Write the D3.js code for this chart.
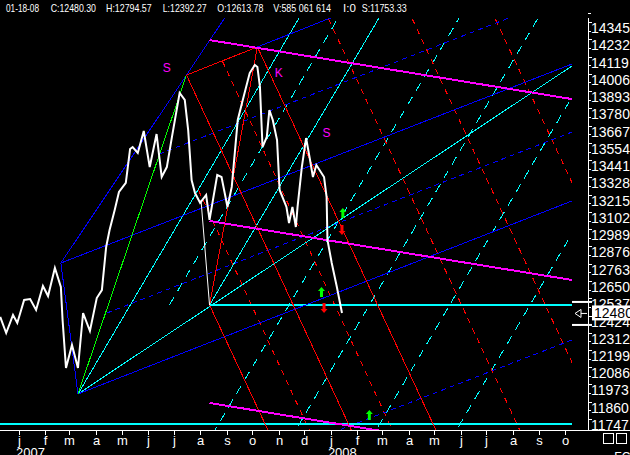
<!DOCTYPE html>
<html><head><meta charset="utf-8">
<script src="https://cdn.jsdelivr.net/npm/d3@7"></script>
<style>body{margin:0;background:#000;overflow:hidden}svg{display:block}</style>
</head><body>
<svg id="c" width="630" height="455"></svg>
<script>
// ---------- DATA ----------
const headerItems = ["01-18-08","C:12480.30","H:12794.57","L:12392.27","O:12613.78","V:585 061 614","I:0","S:11753.33"];
const priceDates = ["2006-12-10","2006-12-17","2006-12-25","2006-12-30","2007-01-07","2007-01-14","2007-01-21","2007-01-29","2007-02-04","2007-02-12","2007-02-19","2007-02-21","2007-02-25","2007-03-04","2007-03-11","2007-03-17","2007-03-25","2007-04-02","2007-04-08","2007-04-13","2007-04-17","2007-04-23","2007-04-28","2007-05-06","2007-05-11","2007-05-14","2007-05-20","2007-05-27","2007-06-03","2007-06-11","2007-06-17","2007-06-23","2007-06-29","2007-07-08","2007-07-14","2007-07-18","2007-07-22","2007-07-26","2007-08-01","2007-08-08","2007-08-12","2007-08-21","2007-08-26","2007-09-02","2007-09-07","2007-09-14","2007-09-19","2007-09-28","2007-10-04","2007-10-07","2007-10-10","2007-10-13","2007-10-18","2007-10-21","2007-10-25","2007-10-30","2007-11-02","2007-11-10","2007-11-13","2007-11-17","2007-11-21","2007-11-23","2007-11-28","2007-12-03","2007-12-07","2007-12-11","2007-12-15","2007-12-24","2007-12-27","2007-12-28","2008-01-02","2008-01-08","2008-01-14"];
const priceValues = [12454,12349,12467,12415,12565,12571,12500,12657,12591,12774,12650,12434,12120,12271,12120,12480,12362,12578,12630,12912,13023,13154,13272,13331,13553,13566,13527,13671,13435,13651,13370,13435,13632,13920,13874,13677,13350,13265,13200,13252,13089,13383,13370,13174,13305,13743,13854,14050,14103,14090,13959,13566,13632,13808,13743,13612,13285,13174,13069,13174,13043,13174,13435,13625,13501,13370,13448,13370,13239,12958,12807,12650,12480];
const lowSpike = [["2007-08-02",13219],["2007-08-12",12532]];
const yTickValues = [14345,14232,14119,14006,13893,13780,13667,13554,13441,13328,13215,13102,12989,12876,12763,12650,12537,12424,12312,12199,12086,11973,11860,11747];
const monthLabels = ["j","f","m","a","m","j","j","a","s","o","n","d","j","f","m","a","m","j","j","a","s","o"];
const yearLabels = [["2007-01-01","2007"],["2008-01-01","2008"]];
const lastClose = 12480.30;
const stopLevel = 11753.33;

// pivots
const pivotA = ["2007-03-11",11950];
const pivotB = ["2007-02-19",12807];
const pivotS = ["2007-07-16",14037];
const pivotK = ["2007-10-07",14221];
const pivotL = ["2007-08-12",12532];

// line groups: [from, to, extend]  extend: "seg" | "ray" | "line"
const blueSolid = [
  [pivotB, pivotA, "seg"],
  [pivotB, pivotS, "ray"],
  [pivotA, ["2008-10-09",13213], "ray"],
  [pivotB, ["2008-10-09",14109], "ray"],
  [pivotS, pivotK, "ray"]
];
const blueDashed = [
  [["2007-04-14",12480], ["2008-10-09",13664], "ray"],
  [["2007-06-14",13520], ["2008-07-27",14410], "ray"],
  [["2008-10-09",12303], ["2008-02-04",11767], "ray"]
];
const greenLines = [[pivotA, pivotS, "seg"]];
const cyanSolid = [
  [pivotA, ["2007-09-28",13861], "ray"],
  [pivotA, ["2008-10-09",14096], "ray"],
  [pivotL, ["2008-01-11",13972], "ray"]
];
const cyanLevels = [
  [pivotL, ["2008-10-09",12532], "seg"],
  [["2006-12-09",stopLevel], ["2008-10-09",stopLevel], "seg"]
];
const cyanDashed = [
  [["2007-06-26",12532], ["2007-10-21",13645], "ray"],
  [["2007-11-13",12532], ["2008-03-10",13645], "line"],
  [["2008-02-15",12532], ["2008-06-11",13645], "line"],
  [["2008-05-19",12532], ["2008-09-13",13645], "line"],
  [["2008-08-21",12532], ["2008-12-16",13645], "line"]
];
const redSolid = [
  [pivotL, pivotK, "seg"],
  [pivotS, pivotK, "seg"],
  [pivotS, ["2007-11-25",12447], "ray"],
  [pivotK, ["2008-01-23",12925], "ray"],
  [pivotL, ["2007-09-28",11969], "ray"]
];
const redDashed = [
  [["2007-07-30",13285], ["2007-09-28",12558], "ray"],
  [["2007-08-27",14129], ["2007-11-25",13036], "ray"],
  [["2008-08-09",11714], ["2008-04-14",13121], "line"],
  [["2008-11-15",11714], ["2008-07-21",13121], "line"],
  [["2009-02-22",11714], ["2008-10-27",13121], "line"]
];
const magentaLines = [
  [["2007-08-12",14266], ["2008-10-09",13880], "ray"],
  [["2007-08-12",13082], ["2008-10-09",12696], "ray"],
  [["2007-08-12",11891], ["2008-10-09",11505], "ray"]
];
const labelTexts = ["S","K","S"];
const labelPoints = [["2007-06-23",14083],["2007-11-01",14050],["2007-12-27",13658]];
const upArrows = [["2008-01-15",13134],["2007-12-21",12617],["2008-02-15",11812]];
const downArrows = [["2008-01-14",13023],["2007-12-24",12513]];

// ---------- CHART ----------
const W = 630, H = 455;
const plot = {left: 0, right: 572, top: 18, bottom: 430};
const axisX = 588;
const parse = d3.timeParse("%Y-%m-%d");
const x = d3.scaleTime().domain([parse("2007-01-01"), parse("2008-10-01")]).range([19, 565]);
const y = d3.scaleLinear().domain([11747, 14345]).range([425, 28]);
const P = p => [x(parse(p[0])), y(p[1])];

const svg = d3.select("#c");
svg.append("rect").attr("width", W).attr("height", H).attr("fill", "#000");
svg.append("defs").append("clipPath").attr("id", "clip")
  .append("rect").attr("x", plot.left).attr("y", plot.top)
  .attr("width", plot.right - plot.left).attr("height", plot.bottom - plot.top);

const g = svg.append("g").attr("clip-path", "url(#clip)");

function drawGroup(lines, color, width, dash) {
  lines.forEach(([a, b, ext]) => {
    let p1 = P(a), p2 = P(b);
    const dx = p2[0] - p1[0], dy = p2[1] - p1[1];
    let s = p1, e = p2;
    if (ext === "ray" || ext === "line") e = [p1[0] + dx * 60, p1[1] + dy * 60];
    if (ext === "line") s = [p1[0] - dx * 60, p1[1] - dy * 60];
    g.append("line").attr("x1", s[0]).attr("y1", s[1]).attr("x2", e[0]).attr("y2", e[1])
      .attr("stroke", color).attr("stroke-width", width)
      .attr("stroke-dasharray", dash || null).attr("shape-rendering", "crispEdges");
  });
}
drawGroup(cyanDashed, "#00ffff", 1, "9,7");
drawGroup(redDashed, "#ff0000", 1, "6,5");
drawGroup(blueDashed, "#0000ff", 1, "5,4");
drawGroup(cyanSolid, "#00ffff", 1);
drawGroup(cyanLevels, "#00ffff", 2);
drawGroup(blueSolid, "#0000ff", 1);
drawGroup(greenLines, "#00ff00", 1);
drawGroup(redSolid, "#ff0000", 1);
drawGroup(magentaLines, "#ff00ff", 2);

// price
const price = priceDates.map((d, i) => ({date: parse(d), value: priceValues[i]}));
const line = d3.line().x(d => x(d.date)).y(d => y(d.value));
g.append("path").datum(lowSpike.map(d => ({date: parse(d[0]), value: d[1]})))
  .attr("d", line).attr("fill", "none").attr("stroke", "#fff").attr("stroke-width", 1);
g.append("path").datum(price).attr("d", line).attr("fill", "none")
  .attr("stroke", "#fff").attr("stroke-width", 2).attr("stroke-linejoin", "miter");

// arrows
upArrows.forEach(p => {
  const [cx, cy] = P(p);
  svg.append("path").attr("fill", "#00ff00")
    .attr("d", `M${cx},${cy-5}L${cx+3.5},${cy-1}L${cx+1.5},${cy-1}L${cx+1.5},${cy+5}L${cx-1.5},${cy+5}L${cx-1.5},${cy-1}L${cx-3.5},${cy-1}Z`);
});
downArrows.forEach(p => {
  const [cx, cy] = P(p);
  svg.append("path").attr("fill", "#ff0000")
    .attr("d", `M${cx},${cy+5}L${cx+3.5},${cy+1}L${cx+1.5},${cy+1}L${cx+1.5},${cy-5}L${cx-1.5},${cy-5}L${cx-1.5},${cy+1}L${cx-3.5},${cy+1}Z`);
});

// labels
labelPoints.forEach((p, i) => {
  const [lx, ly] = P(p);
  svg.append("text").attr("x", lx).attr("y", ly + 4).attr("text-anchor", "middle")
    .attr("fill", "#ff00ff").attr("font-family", "Liberation Sans, Arial, sans-serif")
    .attr("font-size", 12).text(labelTexts[i]);
});

// header
const headerX = [6, 50.7, 106, 162.7, 217.3, 273.3, 343, 361.7];
const headerW = [33, 45.3, 45.7, 44, 46, 57.7, 0, 45];
headerItems.forEach((t, i) => {
  const tt = svg.append("text").attr("x", headerX[i]).attr("y", 12)
    .attr("fill", "#fff").attr("font-family", "Liberation Sans Narrow, Liberation Sans, Arial, sans-serif")
    .attr("font-size", 11.5).text(t);
  if (headerW[i]) tt.attr("textLength", headerW[i]).attr("lengthAdjust", "spacingAndGlyphs");
});

// x axis
svg.append("line").attr("x1", 0).attr("x2", W).attr("y1", 430.5).attr("y2", 430.5)
  .attr("stroke", "#fff").attr("stroke-width", 1);
const months = d3.timeMonth.range(parse("2007-01-01"), parse("2008-10-02"));
months.forEach((m, i) => {
  const mx = Math.round(x(m)) + 0.5;
  svg.append("line").attr("x1", mx).attr("x2", mx).attr("y1", 430).attr("y2", 435).attr("stroke", "#fff");
  svg.append("text").attr("x", mx).attr("y", 445).attr("text-anchor", "middle")
    .attr("fill", "#fff").attr("font-family", "Liberation Sans, Arial, sans-serif")
    .attr("font-size", 13).text(monthLabels[i]);
});
yearLabels.forEach(([d, t]) => {
  svg.append("text").attr("x", x(parse(d)) - 3).attr("y", 457)
    .attr("fill", "#fff").attr("font-family", "Liberation Sans, Arial, sans-serif")
    .attr("font-size", 13).text(t);
});

// y axis
svg.append("line").attr("x1", axisX + 0.5).attr("x2", axisX + 0.5).attr("y1", 18).attr("y2", 431)
  .attr("stroke", "#fff");
const step = (yTickValues[0] - yTickValues[yTickValues.length - 1]) / (yTickValues.length - 1);
yTickValues.forEach(v => {
  const ty = Math.round(y(v)) + 0.5;
  svg.append("line").attr("x1", axisX).attr("x2", axisX + 4).attr("y1", ty - 6).attr("y2", ty - 6).attr("stroke", "#fff");
  svg.append("line").attr("x1", axisX).attr("x2", axisX + 3).attr("y1", Math.round(y(v + step / 2)) + 0.5 - 6)
    .attr("y2", Math.round(y(v + step / 2)) + 0.5 - 6).attr("stroke", "#fff");
  svg.append("text").attr("x", 591).attr("y", y(v) + 5).attr("fill", "#fff")
    .attr("font-family", "Liberation Sans, Arial, sans-serif").attr("font-size", 14).text(v);
});

// current value marker
const cy = y(lastClose);
svg.append("rect").attr("x", 572).attr("y", cy - 12).attr("width", 20).attr("height", 2).attr("fill", "#fff");
svg.append("rect").attr("x", 572).attr("y", cy + 11).attr("width", 20).attr("height", 2).attr("fill", "#fff");
svg.append("path").attr("d", `M575,${cy+0.5}L581,${cy-3.5}L581,${cy+4.5}Z M581,${cy+0.5}L587,${cy+0.5}`)
  .attr("fill", "none").attr("stroke", "#fff");
svg.append("rect").attr("x", 592).attr("y", cy - 7.5).attr("width", 38).attr("height", 15).attr("fill", "#fff");
svg.append("text").attr("x", 594).attr("y", cy + 5).attr("fill", "#000")
  .attr("font-family", "Liberation Sans, Arial, sans-serif").attr("font-size", 14).text(Math.floor(lastClose));

// bottom-right boxes
[603, 616].forEach(bx => {
  svg.append("rect").attr("x", bx + 0.5).attr("y", 433.5).attr("width", 10).attr("height", 10)
    .attr("fill", "none").attr("stroke", "#fff");
});
svg.append("text").attr("x", 611).attr("y", 461).attr("fill", "#fff")
  .attr("font-family", "Liberation Sans, Arial, sans-serif").attr("font-size", 12).text(".FC");
</script>
</body></html>
